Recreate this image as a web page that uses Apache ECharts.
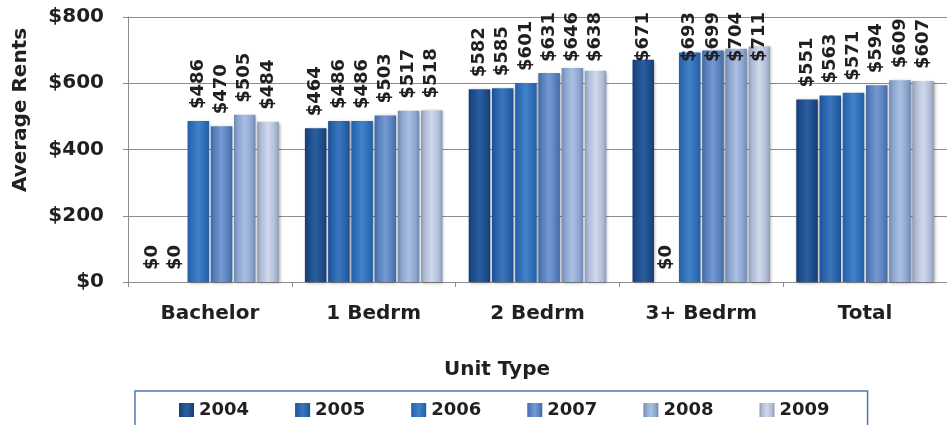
<!DOCTYPE html>
<html>
<head>
<meta charset="utf-8">
<script src="https://cdn.jsdelivr.net/npm/echarts@6/dist/echarts.min.js"></script>
<style>
html,body{margin:0;padding:0;background:#fff;}
#chart{width:947px;height:425px;}
</style>
</head>
<body>
<div id="chart"></div>
<script>
const categories = ['Bachelor', '1 Bedrm', '2 Bedrm', '3+ Bedrm', 'Total'];
const years = ['2004', '2005', '2006', '2007', '2008', '2009'];
const rents2004 = [0, 464, 582, 671, 551];
const rents2005 = [0, 486, 585, 0, 563];
const rents2006 = [486, 486, 601, 693, 571];
const rents2007 = [470, 503, 631, 699, 594];
const rents2008 = [505, 517, 646, 704, 609];
const rents2009 = [484, 518, 638, 711, 607];
const yMin = 0, yMax = 800, yStep = 200;
const xAxisTitle = 'Unit Type';
const yAxisTitle = 'Average Rents';

const seriesValues = [rents2004, rents2005, rents2006, rents2007, rents2008, rents2009];
const palette = [
  ['#163c73', '#1d4b88', '#2a5e9f'],
  ['#1d4f94', '#2761a9', '#3b76bd'],
  ['#235ea6', '#2d6cb6', '#4282c8'],
  ['#42699f', '#557fbd', '#7699d0'],
  ['#7088b3', '#8ca5d0', '#aabfe2'],
  ['#8f9bb5', '#b0bdd8', '#d0d9eb']
];
function grad(c) {
  return new echarts.graphic.LinearGradient(0, 0, 1, 0, [
    {offset: 0, color: c[0]},
    {offset: 0.18, color: c[1]},
    {offset: 0.5, color: c[2]},
    {offset: 0.82, color: c[1]},
    {offset: 1, color: c[0]}
  ]);
}
const FONT = 'DejaVu Sans';
const LABEL_TOP = 12;
const chart = echarts.init(document.getElementById('chart'), null, {renderer: 'canvas'});
const series = years.map((y, i) => ({
  name: y,
  type: 'bar',
  data: seriesValues[i],
  barGap: '8%',
  barCategoryGap: '16%',
  itemStyle: {
    color: grad(palette[i]),
    shadowColor: 'rgba(0,0,0,0.35)',
    shadowBlur: 3,
    shadowOffsetX: 1,
    shadowOffsetY: 1
  },
  label: {
    show: true,
    position: 'top',
    rotate: 90,
    align: 'left',
    verticalAlign: 'middle',
    distance: 12,
    formatter: p => '$' + p.value,
    fontFamily: FONT,
    fontSize: 18,
    fontWeight: 'bold',
    color: '#231f20'
  },
  labelLayout: function (params) {
    const r = params.labelRect;
    if (r.y < LABEL_TOP) {
      return {x: r.x + r.width / 2, y: LABEL_TOP + r.height};
    }
    return {};
  }
}));

chart.setOption({
  animation: false,
  backgroundColor: '#ffffff',
  textStyle: {fontFamily: FONT},
  grid: {left: 128, top: 17, width: 832, height: 265},
  legend: {
    data: years,
    left: 135,
    top: 391,
    icon: 'rect',
    itemWidth: 15,
    itemHeight: 14,
    itemGap: 46,
    padding: [9, 38, 9, 44],
    borderColor: '#4f7bb5',
    borderWidth: 1.5,
    textStyle: {fontFamily: FONT, fontSize: 18, fontWeight: 'bold', color: '#231f20', lineHeight: 20}
  },
  xAxis: {
    type: 'category',
    data: categories,
    axisLine: {lineStyle: {color: '#8c8c8c', width: 1}},
    axisTick: {show: true, length: 5, lineStyle: {color: '#8c8c8c'}},
    axisLabel: {margin: 22, fontFamily: FONT, fontSize: 20, fontWeight: 'bold', color: '#231f20', interval: 0}
  },
  yAxis: {
    type: 'value',
    min: yMin,
    max: yMax,
    interval: yStep,
    axisLine: {show: true, lineStyle: {color: '#8c8c8c', width: 1}},
    axisTick: {show: true, length: 5, lineStyle: {color: '#8c8c8c'}},
    splitLine: {lineStyle: {color: '#8c8c8c', width: 1}},
    axisLabel: {margin: 24, fontFamily: FONT, fontSize: 20, fontWeight: 'bold', color: '#231f20', formatter: v => '$' + v}
  },
  graphic: [
    {
      type: 'text',
      x: 21, y: 110,
      rotation: Math.PI / 2,
      style: {text: yAxisTitle, fontFamily: FONT, fontSize: 20, fontWeight: 'bold', fill: '#231f20', align: 'center', verticalAlign: 'middle'}
    },
    {
      type: 'text',
      x: 497, y: 370,
      style: {text: xAxisTitle, fontFamily: FONT, fontSize: 20, fontWeight: 'bold', fill: '#231f20', align: 'center', verticalAlign: 'middle'}
    }
  ],
  series: series
});
</script>
</body>
</html>
